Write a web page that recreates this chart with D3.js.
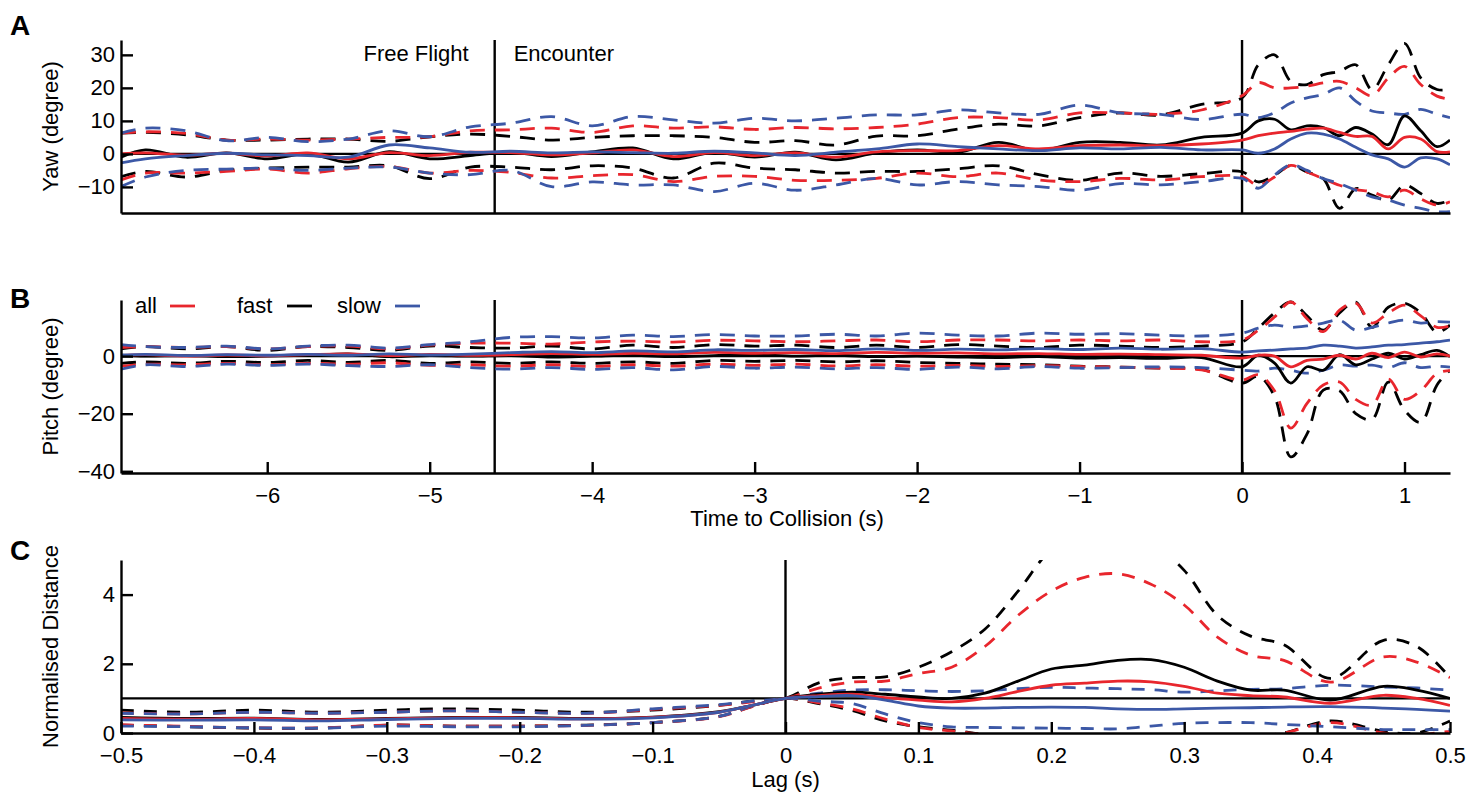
<!DOCTYPE html>
<html>
<head>
<meta charset="utf-8">
<script src="https://cdn.jsdelivr.net/npm/d3@7"></script>
<style>
  body { margin: 0; background: #fff; }
  text { font-family: "Liberation Sans", Arial, Helvetica, sans-serif; }
</style>
</head>
<body>
<div id="chart"></div>
<script>
// ---- data ----
// time to collision (s), shared by panels A and B
const timeAB = [-6.9, -6.75, -6.5, -6.25, -6, -5.75, -5.5, -5.25, -5, -4.75, -4.5, -4.25, -4, -3.75, -3.5, -3.25, -3, -2.75, -2.5, -2.25, -2, -1.75, -1.5, -1.25, -1, -0.75, -0.5, -0.25, 0,
                0.1, 0.2, 0.3, 0.4, 0.5, 0.6, 0.7, 0.8, 0.9, 1.0, 1.1, 1.2, 1.28]

// A: yaw (degree)
const yawAllMean = [0, 0.3, -0.4, 0.2, -0.6, 0.3, -1.5, 0.4, -0.5, 0.5, 0.4, -0.3, 0.3, 1.2, -0.8, 0.4, -0.5, 0.3, -1.0, 0.6, 1.0, 1.0, 2.5, 1.5, 2.5, 2.7, 2.5, 3.0, 4.2,
                    5.5, 6.3, 6.8, 7.5, 7.8, 6.5, 5.3, 5.3, 1.5, 5.0, 4.5, 0.7, 0.6]
const yawAllUp = [6.3, 6.7, 6.2, 4.2, 4.5, 4.2, 4.5, 5.0, 5.2, 7.0, 7.3, 7.8, 6.5, 8.5, 7.8, 8.2, 7.4, 8.0, 7.6, 8.0, 9.0, 11.0, 11.0, 10.3, 12.4, 12.4, 12.0, 13.3, 17.6,
                  21.6, 20, 20, 20.5, 21.5, 22, 20, 17.6, 23, 26.5, 21, 17.5, 16.5]
const yawAllLo = [-7.9, -5.8, -5.8, -5.3, -4.6, -5.8, -4.5, -3.8, -5.8, -5.0, -5.6, -7.3, -6.6, -6.3, -8.4, -6.8, -6.8, -8.0, -8.0, -7.4, -5.8, -6.9, -5.8, -7.9, -8.4, -7.4, -7.9, -6.9, -6.9,
                  -9.5, -7, -3.5, -5.5, -7.5, -9.5, -10.8, -11.5, -13, -11, -13.6, -15.5, -14.5]
const yawFastMean = [-1.0, 1.2, -1.0, 0.3, -1.5, 0, -2.5, 0.7, -1.5, -0.5, 0.5, -0.8, 0.6, 1.8, -1.5, 0.5, -1.0, 0.5, -1.8, 0.3, 1.2, 0.5, 3.5, 1.0, 3.5, 3.5, 2.7, 5.0, 6.3,
                     10, 10.5, 7.3, 8.5, 8.0, 5.5, 8.0, 6.0, 2.8, 11.5, 7.0, 2.2, 4.2]
const yawFastUp = [6.3, 6.5, 5.8, 4.2, 4.2, 4.5, 4.5, 3.8, 5.2, 6.0, 5.3, 4.2, 5.0, 5.5, 5.5, 5.0, 3.5, 4.0, 2.7, 5.4, 5.5, 7.5, 9.0, 8.5, 11.0, 12.4, 11.8, 15.0, 17.0,
                   27, 30, 22, 21, 24, 25, 27, 19.5, 27, 33.5, 23, 19.5, 19.5]
const yawFastLo = [-6.9, -5.3, -7.0, -5.0, -4.3, -4.0, -4.0, -3.6, -7.5, -4.0, -4.0, -4.8, -3.6, -4.3, -7.3, -2.8, -4.3, -4.8, -5.8, -5.3, -5.3, -4.5, -3.6, -6.3, -8.0, -5.8, -6.8, -6.0, -5.4,
                   -8.5, -6.5, -3.5, -5.5, -7.5, -16.5, -10.5, -12.5, -14, -9.5, -12, -15, -14]
const yawSlowMean = [-2.7, -1.5, -0.5, 0.2, -0.3, -0.5, -1.0, 2.7, 1.8, 0.5, 0.8, 0.3, 0.6, 0.4, 0.2, 0.8, 0.3, -0.5, 0.5, 1.5, 3.0, 2.2, 1.5, 1.0, 1.8, 1.5, 2.0, 1.2, 1.2,
                     0.2, 1.5, 4.5, 6.3, 6.0, 4.5, 2.0, -0.3, -1.5, -4.0, -1.2, -1.5, -3.3]
const yawSlowUp = [6.3, 7.8, 7.0, 4.0, 5.0, 3.7, 4.5, 7.0, 5.2, 8.2, 9.3, 11.3, 8.5, 11.3, 10.3, 9.3, 10.8, 10.0, 10.8, 11.8, 11.8, 13.3, 12.4, 12.0, 14.8, 12.4, 12.0, 10.4, 12.0,
                   11, 12.5, 15.4, 17, 18, 20, 16, 13, 12.4, 12, 13.5, 12, 11]
const yawSlowLo = [-9.9, -7.0, -5.0, -4.6, -4.3, -5.0, -4.3, -4.0, -5.8, -6.3, -5.0, -9.9, -8.5, -9.4, -9.4, -11.4, -8.9, -11.0, -9.4, -7.4, -9.4, -8.4, -9.4, -9.9, -11.0, -9.0, -9.4, -8.4, -7.4,
                   -10.4, -6.4, -3.3, -5, -7.5, -9, -11, -13, -14, -15.5, -16.5, -17.5, -17.5]

// B: pitch (degree)
const pitchAllMean = [0.2, 0.5, 0.0, 0.4, 0.1, 0.5, 0.8, 0.2, 0.6, 0.3, 0.5, 0.9, 0.6, 1.0, 0.8, 1.3, 1.0, 1.2, 0.9, 1.3, 1.0, 1.1, 0.8, 0.9, 0.6, 0.7, 0.5, 0.3, -0.7,
                      0.3, 0.0, -3.7, -1.5, -1.0, 0.3, -1.0, 1.0, -0.5, 1.4, -0.3, 0.8, 0.0]
const pitchAllUp = [3.0, 3.3, 3.0, 3.3, 2.5, 3.3, 3.5, 2.5, 3.8, 4.5, 4.5, 4.2, 4.9, 5.2, 4.9, 5.5, 5.3, 5.0, 5.3, 5.6, 5.0, 5.6, 5.6, 5.3, 5.6, 5.3, 5.6, 5.0, 5.6,
                    9, 13.6, 18.8, 13, 8.5, 16, 18.4, 11.5, 15, 17.7, 14, 10, 10.5]
const pitchAllLo = [-3.5, -2.8, -3.0, -2.5, -3.0, -2.5, -2.8, -2.3, -3.2, -3.0, -3.5, -3.0, -3.6, -3.0, -3.5, -2.8, -3.2, -2.8, -3.4, -3.0, -3.5, -3.2, -3.6, -3.3, -3.6, -3.8, -4.2, -4.8, -8.3,
                    -6.5, -12, -25, -16.4, -10, -9, -15, -17, -8, -15, -12, -6, -5]
const pitchFastMean = [0.3, 0.0, 0.2, -0.2, 0.0, 0.3, 0.8, -0.2, 0.2, 0.0, 0.2, -0.3, 0.0, 0.3, -0.2, 0.2, 0.5, 0.0, 0.3, -0.2, 0.0, -0.3, -0.5, -0.2, -0.7, -0.5, -0.8, -0.5, -3.7,
                       0.3, -2.4, -9.4, -3.7, -4.9, 0.5, -3.0, -1.0, 1.0, -1.0, 0.5, 2.0, -0.2]
const pitchFastUp = [2.5, 3.3, 2.5, 3.3, 2.0, 3.3, 3.0, 2.0, 3.5, 3.0, 2.8, 3.5, 2.5, 3.8, 3.0, 4.0, 3.5, 3.8, 3.0, 3.8, 3.0, 4.0, 3.5, 3.0, 3.8, 3.5, 3.0, 3.5, 4.9,
                     9.7, 15, 18.8, 14, 9, 15, 18.8, 10, 17, 18.4, 15, 8.3, 10.8]
const pitchFastLo = [-2.5, -2.0, -2.5, -1.8, -2.2, -1.5, -2.2, -1.5, -2.5, -2.0, -2.5, -2.0, -2.5, -2.0, -2.5, -1.5, -1.8, -1.5, -2.0, -1.6, -2.2, -2.5, -2.8, -3.0, -3.5, -3.8, -4.2, -4.5, -9.4,
                     -7, -14, -35, -27, -11.8, -12, -20, -22, -9, -18.8, -23, -10, -4.9]
const pitchSlowMean = [0.3, 0.6, 0.2, 0.5, 0.3, 0.6, 0.3, 0.8, 0.4, 0.7, 1.2, 1.6, 1.2, 1.8, 1.5, 2.2, 2.0, 2.3, 1.9, 2.5, 2.0, 2.4, 2.2, 2.6, 2.3, 2.8, 2.4, 2.6, 1.4,
                       1.8, 2.1, 2.5, 2.8, 3.8, 3.5, 2.8, 3.2, 3.8, 4.0, 4.5, 5.0, 5.6]
const pitchSlowUp = [4.0, 3.3, 3.0, 3.5, 2.5, 3.5, 3.8, 2.8, 4.0, 5.0, 6.5, 6.8, 6.3, 7.3, 6.8, 7.5, 7.0, 7.0, 7.6, 7.0, 8.0, 7.3, 7.0, 8.0, 7.6, 7.8, 7.3, 7.0, 8.0,
                     9.7, 10.8, 10, 10.5, 11.5, 12.5, 9, 10, 11.5, 12.5, 11.5, 12, 11.8]
const pitchSlowLo = [-4.5, -3.0, -3.6, -2.8, -3.2, -2.8, -3.3, -3.6, -3.0, -4.0, -4.5, -4.0, -4.6, -4.0, -4.8, -3.6, -4.2, -3.8, -4.4, -4.0, -4.6, -3.8, -4.4, -3.6, -4.2, -4.0, -3.7, -4.0, -4.9,
                     -5.2, -4.2, -4.9, -5.9, -4.9, -3.1, -3.5, -3.1, -4.0, -2.3, -4.0, -3.5, -3.8]

// C: normalised distance vs lag (s)
const lagC = [-0.5, -0.45, -0.4, -0.35, -0.3, -0.25, -0.2, -0.15, -0.1, -0.05, -0.025, 0,
              0.025, 0.05, 0.075, 0.1, 0.125, 0.15, 0.175, 0.2, 0.225, 0.25, 0.275, 0.3, 0.325, 0.35, 0.375, 0.41, 0.45, 0.475, 0.5]
const distAllMean = [0.42, 0.4, 0.42, 0.38, 0.41, 0.44, 0.44, 0.41, 0.45, 0.6, 0.8, 1.0,
                     1.08, 1.12, 1.02, 0.95, 0.9, 1.0, 1.2, 1.38, 1.44, 1.5, 1.48, 1.35, 1.15, 1.08, 1.04, 0.86, 1.09, 1.0, 0.8]
const distAllUp = [0.58, 0.55, 0.6, 0.57, 0.6, 0.64, 0.6, 0.57, 0.68, 0.8, 0.9, 1.0,
                   1.3, 1.47, 1.5, 1.72, 1.9, 2.5, 3.4, 4.1, 4.5, 4.6, 4.3, 3.7, 2.77, 2.25, 2.1, 1.47, 2.2, 2.05, 1.6]
const distAllLo = [0.24, 0.19, 0.15, 0.15, 0.23, 0.2, 0.2, 0.22, 0.3, 0.47, 0.76, 1.0,
                   0.87, 0.7, 0.4, 0.16, 0.06, -0.05, -0.15, -0.25, -0.3, -0.35, -0.35, -0.3, -0.2, -0.1, 0.0, 0.3, 0.0, -0.05, 0.05]
const distFastMean = [0.45, 0.42, 0.43, 0.39, 0.42, 0.45, 0.45, 0.42, 0.46, 0.62, 0.8, 1.0,
                      1.12, 1.18, 1.12, 1.04, 1.0, 1.15, 1.5, 1.85, 1.96, 2.1, 2.12, 1.9, 1.5, 1.24, 1.24, 0.95, 1.35, 1.24, 1.0]
const distFastUp = [0.66, 0.6, 0.66, 0.6, 0.66, 0.7, 0.66, 0.6, 0.66, 0.8, 0.92, 1.0,
                    1.45, 1.6, 1.62, 1.9, 2.35, 3.0, 4.1, 5.3, 5.8, 5.9, 5.5, 4.7, 3.4, 2.8, 2.55, 1.58, 2.68, 2.5, 1.6]
const distFastLo = [0.23, 0.18, 0.14, 0.14, 0.23, 0.2, 0.2, 0.23, 0.3, 0.48, 0.77, 1.0,
                    0.85, 0.65, 0.35, 0.18, 0.08, -0.05, -0.2, -0.3, -0.4, -0.45, -0.45, -0.4, -0.3, -0.15, 0.0, 0.35, 0.05, 0.0, 0.35]
const distSlowMean = [0.38, 0.37, 0.38, 0.35, 0.39, 0.42, 0.42, 0.4, 0.44, 0.6, 0.8, 1.0,
                      1.05, 1.08, 0.95, 0.78, 0.72, 0.72, 0.74, 0.75, 0.74, 0.7, 0.68, 0.7, 0.72, 0.73, 0.75, 0.76, 0.72, 0.68, 0.63]
const distSlowUp = [0.57, 0.55, 0.6, 0.57, 0.6, 0.64, 0.6, 0.57, 0.7, 0.82, 0.92, 1.0,
                    1.15, 1.24, 1.25, 1.22, 1.2, 1.22, 1.28, 1.32, 1.3, 1.28, 1.25, 1.18, 1.22, 1.26, 1.28, 1.38, 1.33, 1.3, 1.24]
const distSlowLo = [0.2, 0.18, 0.15, 0.14, 0.2, 0.18, 0.18, 0.22, 0.3, 0.48, 0.78, 1.0,
                    0.92, 0.85, 0.55, 0.3, 0.18, 0.16, 0.15, 0.14, 0.13, 0.12, 0.2, 0.28, 0.3, 0.3, 0.25, 0.18, 0.1, 0.1, 0.1]

// ticks and labels
const yawTicks = [-10, 0, 10, 20, 30]
const pitchTicks = [-40, -20, 0]
const timeTicks = [-6, -5, -4, -3, -2, -1, 0, 1]
const distTicks = [0, 2, 4]
const lagTicks = [-0.5, -0.4, -0.3, -0.2, -0.1, 0, 0.1, 0.2, 0.3, 0.4, 0.5]
const groupNames = ["all", "fast", "slow"]
const phaseLabels = ["Free Flight", "Encounter"]
const encounterStart = -4.6

// ---- layout ----
const W = 1467, H = 793
const LEFT = 121, RIGHT = 1450
const RED = "#e8262d", BLACK = "#000", BLUE = "#3c58a6"
const FONT = 22
const LW = 2.8

const svg = d3.select("#chart").append("svg")
    .attr("width", W)
    .attr("height", H)

const xTime = d3.scaleLinear().domain([-6.9, 1.28]).range([LEFT, RIGHT])
const xLag = d3.scaleLinear().domain([-0.5, 0.5]).range([LEFT, RIGHT])

function styleAxis(g) {
    g.attr("font-size", FONT).attr("font-family", '"Liberation Sans", Arial, sans-serif')
    g.selectAll("path.domain").attr("stroke", "#000").attr("stroke-width", 2.4)
    g.selectAll(".tick line").attr("stroke", "#000").attr("stroke-width", 2.4)
    g.selectAll(".tick text").attr("fill", "#000")
}

function drawPanel(p) {
    const y = d3.scaleLinear().domain(p.yDomain).range([p.bottom, p.top])
    const x = p.x
    const g = svg.append("g")

    const clipId = "clip-" + p.id
    svg.append("clipPath").attr("id", clipId)
      .append("rect")
        .attr("x", LEFT).attr("y", p.top)
        .attr("width", RIGHT - LEFT).attr("height", p.bottom - p.top)

    // reference lines
    g.append("line")
        .attr("x1", LEFT).attr("x2", RIGHT)
        .attr("y1", y(p.refY)).attr("y2", y(p.refY))
        .attr("stroke", "#000").attr("stroke-width", 2.2)
    p.vLines.forEach(v => {
        g.append("line")
            .attr("x1", x(v)).attr("x2", x(v))
            .attr("y1", p.top).attr("y2", p.bottom)
            .attr("stroke", "#000").attr("stroke-width", 2.4)
    })

    const line = d3.line()
        .x((d, i) => x(p.t[i]))
        .y(d => y(d))
        .curve(d3.curveCatmullRom.alpha(0.5))

    const lines = g.append("g").attr("clip-path", `url(#${clipId})`)
    // dashed bounds first, means on top
    p.groups.forEach(s => {
        [s.up, s.lo].forEach(arr => {
            lines.append("path")
                .attr("d", line(arr))
                .attr("fill", "none")
                .attr("stroke", s.color)
                .attr("stroke-width", LW)
                .attr("stroke-dasharray", p.dash)
        })
    })
    p.groups.forEach(s => {
        lines.append("path")
            .attr("d", line(s.mean))
            .attr("fill", "none")
            .attr("stroke", s.color)
            .attr("stroke-width", LW)
    })

    // axes
    const yAxis = d3.axisLeft(y)
        .tickValues(p.yTicks)
        .tickSizeInner(-12)
        .tickSizeOuter(0)
        .tickPadding(6)
        .tickFormat(d3.format("~g"))
    g.append("g").attr("transform", `translate(${LEFT},0)`).call(yAxis).call(styleAxis)

    const xAxis = d3.axisBottom(x)
        .tickValues(p.xTicks)
        .tickSizeInner(-11)
        .tickSizeOuter(0)
        .tickPadding(14)
        .tickFormat(d3.format("~g"))
    g.append("g").attr("transform", `translate(0,${p.bottom})`).call(xAxis).call(styleAxis)

    // titles
    g.append("text")
        .attr("transform", `translate(58,${(p.top + p.bottom) / 2 + p.titleShift}) rotate(-90)`)
        .attr("text-anchor", "middle")
        .attr("font-size", FONT)
        .text(p.yTitle)
    g.append("text")
        .attr("x", 10).attr("y", p.top - 5 + p.letterShift)
        .attr("font-size", 28).attr("font-weight", "bold")
        .text(p.id)
    return { g, y }
}

const A = drawPanel({
    id: "A", top: 40, bottom: 213, x: xTime, t: timeAB,
    yDomain: [-17.9, 34.5], yTicks: yawTicks, xTicks: [],
    refY: 0, vLines: [encounterStart, 0], dash: "15,10",
    yTitle: "Yaw (degree)", titleShift: 0, letterShift: 0,
    groups: [
        { color: BLACK, mean: yawFastMean, up: yawFastUp, lo: yawFastLo },
        { color: RED, mean: yawAllMean, up: yawAllUp, lo: yawAllLo },
        { color: BLUE, mean: yawSlowMean, up: yawSlowUp, lo: yawSlowLo }
    ]
})

const B = drawPanel({
    id: "B", top: 300, bottom: 473, x: xTime, t: timeAB,
    yDomain: [-40.6, 19.5], yTicks: pitchTicks, xTicks: timeTicks,
    refY: 0, vLines: [encounterStart, 0], dash: "15,10",
    yTitle: "Pitch (degree)", titleShift: 0, letterShift: 13,
    groups: [
        { color: BLACK, mean: pitchFastMean, up: pitchFastUp, lo: pitchFastLo },
        { color: RED, mean: pitchAllMean, up: pitchAllUp, lo: pitchAllLo },
        { color: BLUE, mean: pitchSlowMean, up: pitchSlowUp, lo: pitchSlowLo }
    ]
})

const C = drawPanel({
    id: "C", top: 560, bottom: 733, x: xLag, t: lagC,
    yDomain: [0, 5], yTicks: distTicks, xTicks: lagTicks,
    refY: 1, vLines: [0], dash: "13,10",
    yTitle: "Normalised Distance", titleShift: 0, letterShift: 5,
    groups: [
        { color: BLACK, mean: distFastMean, up: distFastUp, lo: distFastLo },
        { color: RED, mean: distAllMean, up: distAllUp, lo: distAllLo },
        { color: BLUE, mean: distSlowMean, up: distSlowUp, lo: distSlowLo }
    ]
})

// phase labels in A
A.g.append("text")
    .attr("x", xTime(encounterStart) - 26).attr("y", 61)
    .attr("text-anchor", "end").attr("font-size", FONT)
    .text(phaseLabels[0])
A.g.append("text")
    .attr("x", xTime(encounterStart) + 19).attr("y", 61)
    .attr("font-size", FONT)
    .text(phaseLabels[1])

// legend in B
const legendColors = [RED, BLACK, BLUE]
const legendX = [135, 237, 337]
const legendGap = [35, 50, 58]
groupNames.forEach((name, i) => {
    B.g.append("text")
        .attr("x", legendX[i]).attr("y", 313)
        .attr("font-size", FONT)
        .text(name)
    B.g.append("line")
        .attr("x1", legendX[i] + legendGap[i]).attr("x2", legendX[i] + legendGap[i] + 25)
        .attr("y1", 306).attr("y2", 306)
        .attr("stroke", legendColors[i]).attr("stroke-width", LW)
})

// x titles
svg.append("text")
    .attr("x", xTime(-2.8)).attr("y", 526)
    .attr("text-anchor", "middle").attr("font-size", FONT)
    .text("Time to Collision (s)")
svg.append("text")
    .attr("x", xLag(0)).attr("y", 787)
    .attr("text-anchor", "middle").attr("font-size", FONT)
    .text("Lag (s)")
</script>
</body>
</html>
